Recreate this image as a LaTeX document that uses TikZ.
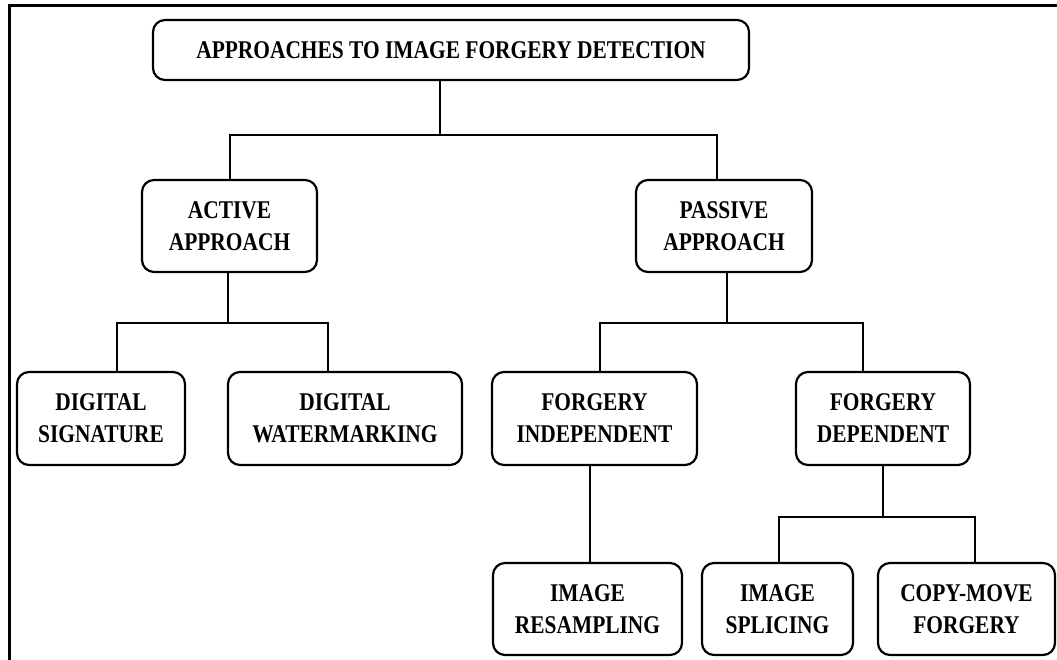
\documentclass[tikz,border=0pt]{standalone}
\usepackage{fontspec}
\setmainfont{Liberation Serif}[FakeStretch=0.84]
\tikzset{
  stagebox/.style={draw, rounded corners=12pt, line width=2.2pt, align=center,
    inner sep=0pt, font=\fontsize{25.5}{32}\selectfont\bfseries},
  link/.style={line width=2pt}
}
\begin{document}
\begin{tikzpicture}[x=1pt, y=-1pt]
        \useasboundingbox (0,0) rectangle (1057,660);
        % outer frame (left and top only)
        \draw[line width=3pt] (9,660) -- (9,6) -- (1057,6);

        % top level
        \node[stagebox, minimum width=596pt, minimum height=60pt] (root) at (451,50) {APPROACHES TO IMAGE FORGERY DETECTION};
        \node[stagebox, minimum width=175pt, minimum height=92pt] (active) at (229.5,226) {ACTIVE\\APPROACH};
        \node[stagebox, minimum width=176pt, minimum height=92pt] (passive) at (724,226) {PASSIVE\\APPROACH};

        % second level
        \node[stagebox, minimum width=168pt, minimum height=93pt] (dsig) at (101,418.5) {DIGITAL\\SIGNATURE};
        \node[stagebox, minimum width=234pt, minimum height=93pt] (dwat) at (345,418.5) {DIGITAL\\WATERMARKING};
        \node[stagebox, minimum width=205pt, minimum height=93pt] (findep) at (594.5,418.5) {FORGERY\\INDEPENDENT};
        \node[stagebox, minimum width=174pt, minimum height=93pt] (fdep) at (883,418.5) {FORGERY\\DEPENDENT};

        % third level
        \node[stagebox, minimum width=189pt, minimum height=92pt] (resamp) at (587.5,609) {IMAGE\\RESAMPLING};
        \node[stagebox, minimum width=151pt, minimum height=92pt] (splice) at (777.5,609) {IMAGE\\SPLICING};
        \node[stagebox, minimum width=177pt, minimum height=92pt] (copymove) at (966.5,609) {COPY-MOVE\\FORGERY};

        % connectors
        \coordinate (busA) at (440,135);
        \draw[link] (root.south -| busA) -- (busA);
        \draw[link] (active.north) |- (busA) -| ([xshift=-7pt]passive.north);

        \coordinate (busB) at (228,323);
        \draw[link] (active.south -| busB) -- (busB);
        \draw[link] ([xshift=16pt]dsig.north) |- (busB) -| ([xshift=-17pt]dwat.north);

        \coordinate (busC) at (727,323);
        \draw[link] (passive.south -| busC) -- (busC);
        \draw[link] ([xshift=5.5pt]findep.north) |- (busC) -| ([xshift=-20pt]fdep.north);

        \draw[link] ([xshift=2.5pt]resamp.north) -- ([xshift=2.5pt]resamp.north |- findep.south);

        \coordinate (busD) at (883,517);
        \draw[link] (fdep.south) -- (busD);
        \draw[link] ([xshift=1.5pt]splice.north) |- (busD) -| ([xshift=8.5pt]copymove.north);
\end{tikzpicture}
\end{document}
